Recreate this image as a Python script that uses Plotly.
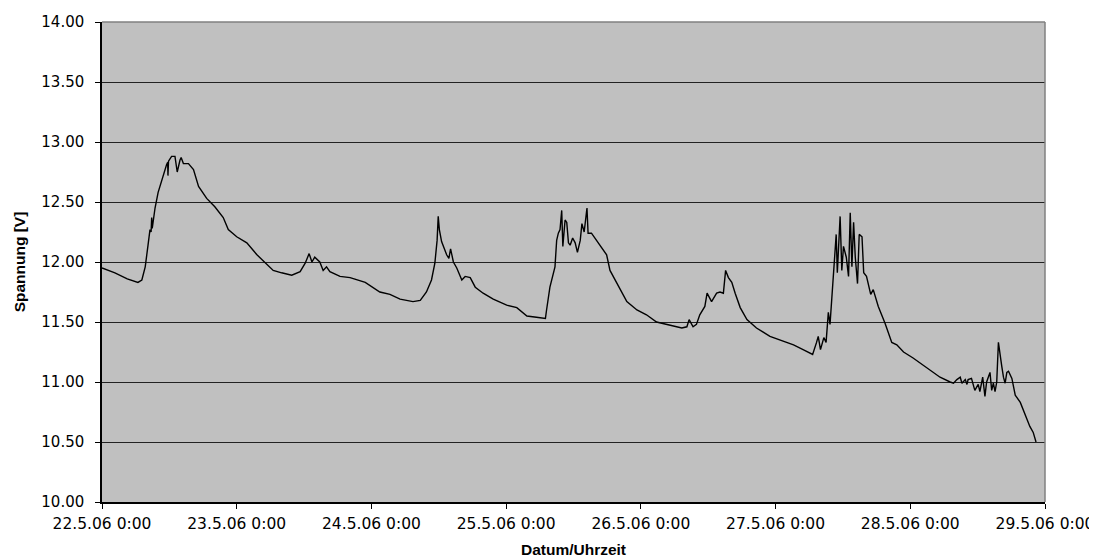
import pandas as pd
import plotly.graph_objects as go

# hours since 22.5.06 0:00
hours = [0, 2.3, 4.5, 6.4, 7.1, 7.7, 8.2, 8.55, 8.75, 8.85, 8.95, 9.45, 10.0, 10.6, 11.2, 11.5, 11.7, 11.75, 11.85,
         12.4, 13.0, 13.4, 13.9, 14.1, 14.5, 15.4, 16.3, 17.2, 18.65, 20.1, 21.6, 22.3, 22.5, 24.0, 25.8, 27.6,
         29.0, 30.5, 32.0, 33.8, 35.3, 36.2, 36.9, 37.4, 37.9, 38.8, 39.4, 40.0, 40.6, 42.4, 44.2, 46.9, 49.5,
         51.3, 53.1, 55.4, 56.7, 57.8, 58.7, 59.3, 59.7, 59.9, 60.1, 60.5, 61.4, 61.8, 62.1, 62.6, 63.2, 64.1,
         64.7, 65.6, 66.5, 67.9, 69.7, 72.1, 73.9, 75.7, 77.4, 79.0, 79.2, 79.8, 80.7, 81.0, 81.3, 81.6, 81.9,
         82.1, 82.5, 82.8, 83.1, 83.4, 83.85, 84.3, 84.7, 85.2, 85.5, 85.9, 86.4, 86.6, 87.2, 88.1, 89.0, 89.9,
         90.5, 91.4, 92.3, 93.5, 95.3, 97.0, 98.8, 100.6, 102.4, 103.3, 104.2, 104.6, 105.3, 105.9, 106.5,
         107.4, 107.8, 108.6, 109.5, 110.1, 110.7, 111.1, 111.6, 112.2, 112.8, 113.7, 114.9, 116.6, 119.0,
         120.8, 123.2, 124.9, 126.6, 127.3, 127.6, 128.0, 128.6, 129.0, 129.4, 129.7, 130.2, 130.4, 130.8,
         131.0, 131.5, 131.8, 132.1, 132.6, 133.0, 133.3, 133.6, 133.9, 134.2, 134.6, 134.9, 135.4, 135.7,
         136.2, 136.95, 137.4, 138.3, 139.5, 140.7, 141.6, 142.8, 144.5, 145.7, 147.5, 149.3, 151.1, 151.7,
         152.3, 152.9, 153.2, 153.8, 154.1, 154.3, 154.9, 155.5, 156.1, 156.4, 156.9, 157.3, 157.6, 158.2,
         158.5, 158.8, 159.1, 159.4, 159.7, 160.0, 160.3, 160.6, 160.9, 161.2, 161.5, 162.1, 162.7, 163.6,
         164.4, 165.3, 165.9, 166.4]

voltage = [11.95, 11.91, 11.86, 11.83, 11.85, 11.96, 12.14, 12.27, 12.25, 12.37, 12.28, 12.45, 12.58, 12.68, 12.77,
           12.81, 12.83, 12.72, 12.84, 12.88, 12.88, 12.75, 12.85, 12.87, 12.82, 12.82, 12.77, 12.63, 12.53, 12.46,
           12.37, 12.30, 12.27, 12.21, 12.16, 12.06, 12.00, 11.93, 11.91, 11.89, 11.92, 11.99, 12.07, 12.00, 12.04,
           12.00, 11.93, 11.96, 11.92, 11.88, 11.87, 11.83, 11.75, 11.73, 11.69, 11.67, 11.68, 11.75, 11.85, 11.99,
           12.18, 12.38, 12.27, 12.17, 12.06, 12.03, 12.11, 12.00, 11.95, 11.85, 11.88, 11.87, 11.79, 11.74, 11.69,
           11.64, 11.62, 11.55, 11.54, 11.53, 11.60, 11.79, 11.96, 12.18, 12.24, 12.27, 12.43, 12.13, 12.35, 12.33,
           12.16, 12.14, 12.20, 12.16, 12.08, 12.18, 12.32, 12.25, 12.45, 12.24, 12.24, 12.18, 12.12, 12.06, 11.93,
           11.85, 11.77, 11.67, 11.60, 11.56, 11.50, 11.48, 11.46, 11.45, 11.46, 11.52, 11.46, 11.48, 11.56, 11.63,
           11.74, 11.67, 11.74, 11.75, 11.74, 11.93, 11.87, 11.83, 11.74, 11.62, 11.52, 11.45, 11.38, 11.35, 11.31,
           11.27, 11.23, 11.33, 11.38, 11.27, 11.37, 11.33, 11.58, 11.48, 11.79, 11.96, 12.23, 11.91, 12.38, 11.93,
           12.13, 12.04, 11.88, 12.41, 11.96, 12.33, 12.04, 11.82, 12.23, 12.21, 11.91, 11.88, 11.73, 11.77, 11.63,
           11.49, 11.33, 11.31, 11.25, 11.20, 11.16, 11.10, 11.04, 11.00, 10.99, 11.02, 11.04, 10.99, 11.02, 10.98,
           11.02, 11.03, 10.93, 10.98, 10.92, 11.04, 10.88, 11.00, 11.08, 10.93, 10.99, 10.92, 11.00, 11.33, 11.21,
           11.13, 11.04, 10.99, 11.08, 11.09, 11.03, 10.89, 10.83, 10.74, 10.63, 10.58, 10.50]

start = pd.Timestamp("2006-05-22 00:00")
times = [start + pd.Timedelta(hours=h) for h in hours]

tick_days = pd.date_range("2006-05-22", "2006-05-29", freq="D")
tick_text = ["22.5.06 0:00", "23.5.06 0:00", "24.5.06 0:00", "25.5.06 0:00",
             "26.5.06 0:00", "27.5.06 0:00", "28.5.06 0:00", "29.5.06 0:00"]
y_ticks = [10.0, 10.5, 11.0, 11.5, 12.0, 12.5, 13.0, 13.5, 14.0]
y_text = [f"{v:.2f}" for v in y_ticks]

fig = go.Figure()
fig.add_trace(go.Scatter(x=times, y=voltage, mode="lines",
                         line=dict(color="black", width=1.4), showlegend=False))

fig.update_layout(
    width=1089, height=551,
    margin=dict(l=94, r=52, t=14, b=57),
    paper_bgcolor="white", plot_bgcolor="#C0C0C0",
    font=dict(family="DejaVu Sans", size=15, color="black"),
    xaxis=dict(range=[tick_days[0], tick_days[-1]], tickvals=list(tick_days), ticktext=tick_text,
               automargin=False,
               showgrid=False, zeroline=False, showline=True, linecolor="black", linewidth=1.5,
               ticks="outside", ticklen=5, tickcolor="black", tickfont=dict(size=15.5),
               ticklabelstandoff=2,
               title=dict(text="<b>Datum/Uhrzeit</b>", font=dict(family="Liberation Sans", size=15.5),
                          standoff=12)),
    yaxis=dict(range=[10, 14], tickvals=y_ticks, ticktext=y_text, automargin=False,
               showgrid=True, gridcolor="#222222", gridwidth=1, zeroline=False,
               showline=True, linecolor="black", linewidth=1.5,
               ticks="outside", ticklen=5, tickcolor="black", tickfont=dict(size=15),
               ticklabelstandoff=8,
               title=dict(text="<b>Spannung [V]</b>", font=dict(family="Liberation Sans", size=15.5),
                          standoff=12)),
)
fig.add_shape(type="line", xref="paper", yref="paper", x0=0, x1=1, y0=1, y1=1,
              line=dict(color="#808080", width=1.5), layer="above")
fig.add_shape(type="line", xref="paper", yref="paper", x0=1, x1=1, y0=0, y1=1,
              line=dict(color="#808080", width=1.5), layer="above")

fig.write_html("out.html")
